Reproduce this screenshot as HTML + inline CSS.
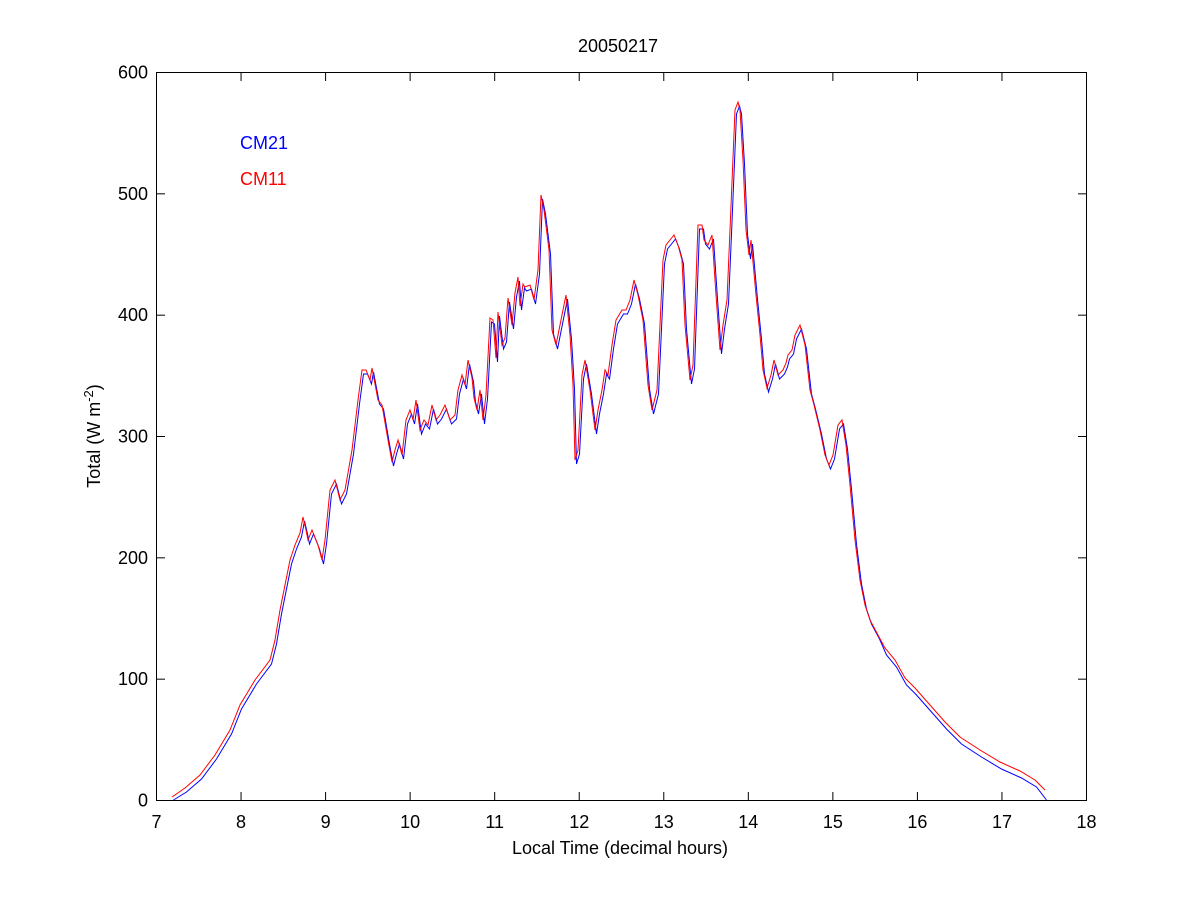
<!DOCTYPE html>
<html><head><meta charset="utf-8"><style>body{margin:0;background:#fff}svg{display:block}text{font-family:"Liberation Sans",sans-serif;font-size:18px;fill:#000}</style></head>
<body>
<svg id="s" width="1200" height="900" viewBox="0 0 1200 900">
<rect width="1200" height="900" fill="#fff"/>
<g id="ax" stroke="#000" stroke-width="1" fill="none"><rect x="156.5" y="72.5" width="930" height="728"/></g>
<text x="618" y="52" text-anchor="middle">20050217</text>
<text x="620" y="854" text-anchor="middle">Local Time (decimal hours)</text>
<text transform="translate(100,436) rotate(-90)" text-anchor="middle">Total (W m<tspan dy="-7" font-size="13">-2</tspan><tspan dy="7">)</tspan></text>
<text x="240" y="149" style="fill:#0000ff">CM21</text>
<text x="240" y="185" style="fill:#ff0000">CM11</text>
<polyline id="b" fill="none" stroke="#0000ff" stroke-width="1"/>
<polyline id="r" fill="none" stroke="#ff0000" stroke-width="1"/>
<g id="lbl"></g>
</svg>
<script>
var ax=document.getElementById('ax'),lbl=document.getElementById('lbl'),NS='http://www.w3.org/2000/svg';
function L(x1,y1,x2,y2){var l=document.createElementNS(NS,'line');l.setAttribute('x1',x1);l.setAttribute('y1',y1);l.setAttribute('x2',x2);l.setAttribute('y2',y2);ax.appendChild(l);}
function T(x,y,s,a){var t=document.createElementNS(NS,'text');t.setAttribute('x',x);t.setAttribute('y',y);t.setAttribute('text-anchor',a);t.textContent=s;lbl.appendChild(t);}
for(var i=7;i<=18;i++){var x=156.5+(i-7)*930/11;L(x,800,x,792);L(x,73,x,81);T(x,828,i,'middle');}
for(var v=0;v<=600;v+=100){var y=800.5-v*728/600;L(157,y,165,y);L(1086,y,1078,y);T(148,y+6,v,'end');}
var p=[172,797,185,788,200,775,215,755,230,730,240,705,255,680,270,660,275,640,280,610,285,585,290,560,295,545,300,533,303,517,306,530,308,540,312,530,318,545,322,560,325,540,330,490,335,480,340,500,345,490,352,450,358,400,362,370,366,370,370,380,372,368,378,400,382,405,388,440,392,462,395,450,398,440,402,455,406,420,410,410,413,420,416,400,420,430,424,420,428,425,432,405,436,420,440,415,445,405,450,420,455,415,458,390,462,375,465,385,468,360,472,378,474,398,477,410,480,390,483,420,486,395,490,318,493,320,496,358,498,312,502,345,505,338,508,298,512,325,515,293,518,277,520,306,523,284,525,287,530,285,534,300,538,270,541,195,544,210,549,250,552,330,556,345,561,320,566,295,570,335,573,385,575,460,578,450,582,375,585,360,590,390,595,430,598,410,602,390,605,370,608,375,612,345,616,320,622,310,626,310,630,300,634,280,638,295,643,320,648,385,652,410,657,390,660,325,663,260,666,245,670,240,674,235,678,245,682,260,685,325,690,380,693,365,698,225,702,225,704,240,708,245,712,235,716,295,720,350,723,325,727,300,730,230,735,110,738,102,740,110,743,160,746,230,749,255,751,240,756,295,760,335,763,370,767,388,771,375,774,360,778,375,783,370,786,363,788,355,792,350,795,335,800,325,805,345,810,390,814,405,820,430,825,455,829,465,833,455,838,425,842,420,846,445,850,485,855,540,860,580,865,605,870,620,878,635,885,648,895,660,905,678,915,688,930,705,945,722,960,737,980,750,1000,762,1020,771,1035,780,1045,790];
var r=[],b=[];
for(var k=0;k<p.length;k+=2){var x=p[k],y=p[k+1];r.push(x+','+y);var off=x>880?7:4;var yb=Math.min(800,y+off);if(k==p.length-2)yb=800;b.push((x+1.5)+','+yb);}
document.getElementById('r').setAttribute('points',r.join(' '));
document.getElementById('b').setAttribute('points',b.join(' '));
</script>
</body></html>
